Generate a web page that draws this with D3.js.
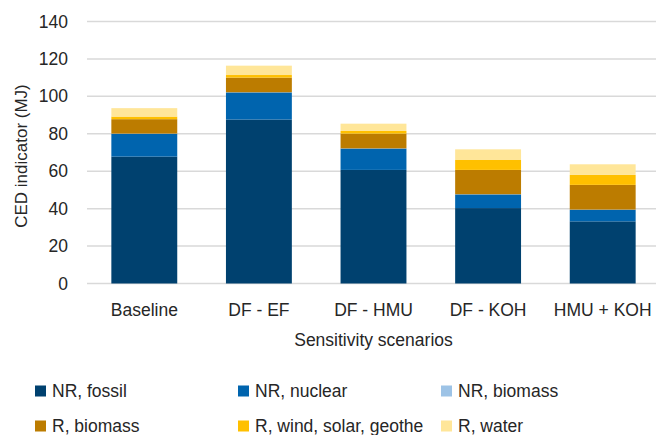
<!DOCTYPE html>
<html>
<head>
<meta charset="utf-8">
<script src="https://cdn.jsdelivr.net/npm/d3@7"></script>
<style>
  html, body { margin: 0; padding: 0; background: #fff; }
  svg { display: block; font-family: "Liberation Sans", Arial, sans-serif; }
</style>
</head>
<body>
<svg id="chart" width="659" height="435"></svg>
<script>
// Scenarios on the x axis
const scenarios = ["Baseline", "DF - EF", "DF - HMU", "DF - KOH", "HMU + KOH"];

// Energy source categories (stack order, bottom to top)
const sources = ["NR, fossil", "NR, nuclear", "NR, biomass", "R, biomass", "R, wind, solar, geothe", "R, water"];

// CED contribution per scenario (MJ)
const nrFossil   = [67.8, 87.6, 60.7, 40.3, 33.2];
const nrNuclear  = [12.2, 14.5, 11.4, 7.3, 6.2];
const nrBiomass  = [0.1, 0.1, 0.1, 0.1, 0.1];
const rBiomass   = [7.7, 7.8, 7.9, 13.0, 13.2];
const rWindSolar = [1.4, 1.4, 1.4, 5.3, 5.3];
const rWater     = [4.5, 5.0, 3.9, 5.7, 5.7];

const yTicks = [0, 20, 40, 60, 80, 100, 120, 140];

const colors = ["#00416F", "#0064AE", "#9DC3E6", "#BC7C00", "#FFC000", "#FFE699"];

const seriesValues = [nrFossil, nrNuclear, nrBiomass, rBiomass, rWindSolar, rWater];
const rows = scenarios.map((s, i) => {
  const r = { scenario: s };
  sources.forEach((k, j) => { r[k] = seriesValues[j][i]; });
  return r;
});

const svg = d3.select("#chart");
const plotLeft = 87, plotRight = 660, plotTop = 21.5, plotBottom = 283.5;

const x = d3.scaleBand().domain(scenarios).range([plotLeft, plotRight])
  .paddingInner(0.425).paddingOuter(0.2125);
const y = d3.scaleLinear().domain([0, 140]).range([plotBottom, plotTop]);
const color = d3.scaleOrdinal().domain(sources).range(colors);

// Horizontal gridlines
svg.append("g").selectAll("line").data(yTicks).join("line")
  .attr("x1", plotLeft).attr("x2", 656)
  .attr("y1", d => y(d)).attr("y2", d => y(d))
  .attr("stroke", "#d9d9d9").attr("stroke-width", 1.5);

// Y axis tick labels
const yAxis = svg.append("g").attr("transform", `translate(${plotLeft},0)`)
  .call(d3.axisLeft(y).tickValues(yTicks).tickSize(0).tickPadding(19));
yAxis.select(".domain").remove();
yAxis.selectAll("text")
  .attr("font-size", 17.5).attr("fill", "#262626")
  .attr("font-family", "Liberation Sans, Arial, sans-serif");

// Stacked bars
const stacked = d3.stack().keys(sources)(rows);
svg.append("g").selectAll("g").data(stacked).join("g")
  .attr("fill", d => color(d.key))
  .selectAll("rect").data(d => d).join("rect")
  .attr("x", d => x(d.data.scenario))
  .attr("width", x.bandwidth())
  .attr("y", d => y(d[1]))
  .attr("height", d => y(d[0]) - y(d[1]));

// X axis labels
const xAxis = svg.append("g").attr("transform", `translate(0,${plotBottom})`)
  .call(d3.axisBottom(x).tickSize(0).tickPadding(20));
xAxis.select(".domain").remove();
xAxis.selectAll("text")
  .attr("font-size", 17.5).attr("fill", "#262626")
  .attr("font-family", "Liberation Sans, Arial, sans-serif");

// Axis titles
svg.append("text")
  .attr("x", (plotLeft + plotRight) / 2).attr("y", 346)
  .attr("text-anchor", "middle")
  .attr("font-size", 17.5).attr("fill", "#262626")
  .text("Sensitivity scenarios");

svg.append("text")
  .attr("transform", "translate(27,156) rotate(-90)")
  .attr("text-anchor", "middle")
  .attr("font-size", 17).attr("fill", "#262626")
  .text("CED indicator (MJ)");

// Legend: three columns, two rows
const legend = svg.append("g").selectAll("g").data(sources).join("g")
  .attr("transform", (d, i) => `translate(${35 + (i % 3) * 203},${391 + Math.floor(i / 3) * 35})`);
legend.append("rect")
  .attr("x", 0).attr("y", -5.5).attr("width", 11).attr("height", 11)
  .attr("fill", d => color(d));
legend.append("text")
  .attr("x", 17).attr("y", 0).attr("dy", "0.35em")
  .attr("font-size", 17.5).attr("fill", "#262626")
  .text(d => d);
</script>
</body>
</html>
